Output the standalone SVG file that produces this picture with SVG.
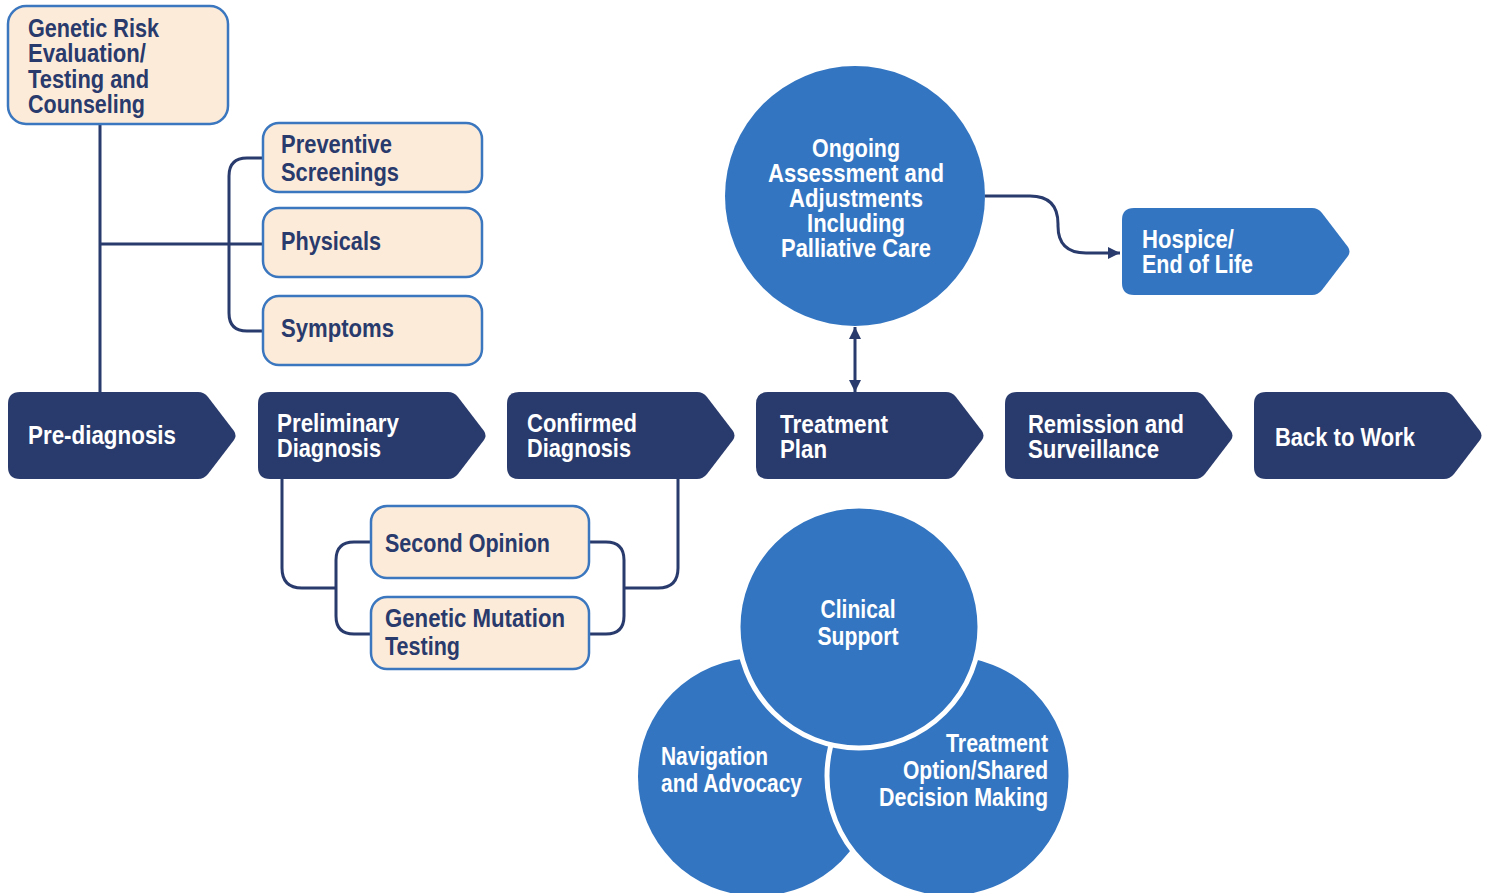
<svg xmlns="http://www.w3.org/2000/svg" width="1486" height="893" viewBox="0 0 1486 893">
<style>
.t{font-family:"Liberation Sans Narrow","Liberation Sans",Arial,sans-serif;font-weight:bold;font-size:26px}
.dk{fill:#293a6c}
.wh{fill:#ffffff}
.peach{fill:#fdebd9;stroke:#3b77bf;stroke-width:2.5}
.navy{fill:#293a6c}
.blue{fill:#3375c1}
.ln{fill:none;stroke:#293a6c;stroke-width:3}
</style>
<defs>
<path id="pent" d="M12,0 H190 Q196,0 200,5 L226,39 Q229,43.5 226,48 L200,82 Q196,87 190,87 H12 Q0,87 0,75 V12 Q0,0 12,0 Z"/>
<marker id="ah" markerUnits="userSpaceOnUse" markerWidth="14" markerHeight="14" refX="12" refY="7" orient="auto-start-reverse">
<path d="M0,1 L12,7 L0,13 Z" fill="#293a6c"/>
</marker>
</defs>
<g id="connectors">
<path class="ln" d="M100,124 V392"/>
<path class="ln" d="M100,244 H263"/>
<path class="ln" d="M263,158 H247 Q229,158 229,176 V313 Q229,331 247,331 H263"/>
<path class="ln" d="M282,479 V568 Q282,588 302,588 H336"/>
<path class="ln" d="M370,542 H354 Q336,542 336,560 V616 Q336,634 354,634 H370"/>
<path class="ln" d="M589,542 H606 Q624,542 624,560 V616 Q624,634 606,634 H589"/>
<path class="ln" d="M624,588 H658 Q678,588 678,568 V479"/>
<path class="ln" d="M985,196 H1030 Q1058,196 1058,224 V226 Q1058,253 1086,253 H1120" marker-end="url(#ah)"/>
<path class="ln" d="M855,327 V392" marker-start="url(#ah)" marker-end="url(#ah)"/>
</g>
<g id="genetic-risk">
<rect class="peach" x="8" y="6" width="220" height="118" rx="18"/>
<text class="t dk"><tspan x="28" y="37" textLength="131" lengthAdjust="spacingAndGlyphs">Genetic Risk</tspan><tspan x="28" y="62" textLength="118" lengthAdjust="spacingAndGlyphs">Evaluation/</tspan><tspan x="28" y="88" textLength="121" lengthAdjust="spacingAndGlyphs">Testing and</tspan><tspan x="28" y="113" textLength="117" lengthAdjust="spacingAndGlyphs">Counseling</tspan></text>
</g>
<g id="preventive">
<rect class="peach" x="263" y="123" width="219" height="69" rx="16"/>
<text class="t dk"><tspan x="281" y="153" textLength="111" lengthAdjust="spacingAndGlyphs">Preventive</tspan><tspan x="281" y="181" textLength="118" lengthAdjust="spacingAndGlyphs">Screenings</tspan></text>
</g>
<g id="physicals">
<rect class="peach" x="263" y="208" width="219" height="69" rx="16"/>
<text class="t dk" x="281" y="250" textLength="100" lengthAdjust="spacingAndGlyphs">Physicals</text>
</g>
<g id="symptoms">
<rect class="peach" x="263" y="296" width="219" height="69" rx="16"/>
<text class="t dk" x="281" y="337" textLength="113" lengthAdjust="spacingAndGlyphs">Symptoms</text>
</g>
<g id="pre-diagnosis">
<use href="#pent" x="8" y="392" class="navy"/>
<text class="t wh" x="28" y="444" textLength="148" lengthAdjust="spacingAndGlyphs">Pre-diagnosis</text>
</g>
<g id="preliminary">
<use href="#pent" x="258" y="392" class="navy"/>
<text class="t wh"><tspan x="277" y="432" textLength="122" lengthAdjust="spacingAndGlyphs">Preliminary</tspan><tspan x="277" y="457" textLength="104" lengthAdjust="spacingAndGlyphs">Diagnosis</tspan></text>
</g>
<g id="confirmed">
<use href="#pent" x="507" y="392" class="navy"/>
<text class="t wh"><tspan x="527" y="432" textLength="110" lengthAdjust="spacingAndGlyphs">Confirmed</tspan><tspan x="527" y="457" textLength="104" lengthAdjust="spacingAndGlyphs">Diagnosis</tspan></text>
</g>
<g id="treatment-plan">
<use href="#pent" x="756" y="392" class="navy"/>
<text class="t wh"><tspan x="780" y="433" textLength="108" lengthAdjust="spacingAndGlyphs">Treatment</tspan><tspan x="780" y="458" textLength="47" lengthAdjust="spacingAndGlyphs">Plan</tspan></text>
</g>
<g id="remission">
<use href="#pent" x="1005" y="392" class="navy"/>
<text class="t wh"><tspan x="1028" y="433" textLength="156" lengthAdjust="spacingAndGlyphs">Remission and</tspan><tspan x="1028" y="458" textLength="131" lengthAdjust="spacingAndGlyphs">Surveillance</tspan></text>
</g>
<g id="back-to-work">
<use href="#pent" x="1254" y="392" class="navy"/>
<text class="t wh" x="1275" y="446" textLength="140" lengthAdjust="spacingAndGlyphs">Back to Work</text>
</g>
<g id="second-opinion">
<rect class="peach" x="371" y="506" width="218" height="72" rx="16"/>
<text class="t dk" x="385" y="552" textLength="165" lengthAdjust="spacingAndGlyphs">Second Opinion</text>
</g>
<g id="genetic-mutation">
<rect class="peach" x="371" y="597" width="218" height="72" rx="16"/>
<text class="t dk"><tspan x="385" y="627" textLength="180" lengthAdjust="spacingAndGlyphs">Genetic Mutation</tspan><tspan x="385" y="655" textLength="75" lengthAdjust="spacingAndGlyphs">Testing</tspan></text>
</g>
<g id="ongoing">
<circle class="blue" cx="855" cy="196" r="130"/>
<text class="t wh" text-anchor="middle"><tspan x="856" y="157" textLength="88" lengthAdjust="spacingAndGlyphs">Ongoing</tspan><tspan x="856" y="182" textLength="176" lengthAdjust="spacingAndGlyphs">Assessment and</tspan><tspan x="856" y="207" textLength="134" lengthAdjust="spacingAndGlyphs">Adjustments</tspan><tspan x="856" y="232" textLength="98" lengthAdjust="spacingAndGlyphs">Including</tspan><tspan x="856" y="257" textLength="150" lengthAdjust="spacingAndGlyphs">Palliative Care</tspan></text>
</g>
<g id="hospice">
<use href="#pent" x="1122" y="208" class="blue"/>
<text class="t wh"><tspan x="1142" y="248" textLength="92" lengthAdjust="spacingAndGlyphs">Hospice/</tspan><tspan x="1142" y="273" textLength="111" lengthAdjust="spacingAndGlyphs">End of Life</tspan></text>
</g>
<g id="navigation">
<circle class="blue" cx="757" cy="777" r="119"/>
<text class="t wh"><tspan x="661" y="765" textLength="107" lengthAdjust="spacingAndGlyphs">Navigation</tspan><tspan x="661" y="792" textLength="141" lengthAdjust="spacingAndGlyphs">and Advocacy</tspan></text>
</g>
<g id="treatment-option">
<circle class="blue" cx="949" cy="776" r="122" stroke="#ffffff" stroke-width="5"/>
<text class="t wh" text-anchor="end"><tspan x="1048" y="752" textLength="102" lengthAdjust="spacingAndGlyphs">Treatment</tspan><tspan x="1048" y="779" textLength="145" lengthAdjust="spacingAndGlyphs">Option/Shared</tspan><tspan x="1048" y="806" textLength="169" lengthAdjust="spacingAndGlyphs">Decision Making</tspan></text>
</g>
<g id="clinical-support">
<circle class="blue" cx="859" cy="627" r="121" stroke="#ffffff" stroke-width="5"/>
<text class="t wh" text-anchor="middle"><tspan x="858" y="618" textLength="75" lengthAdjust="spacingAndGlyphs">Clinical</tspan><tspan x="858" y="645" textLength="81" lengthAdjust="spacingAndGlyphs">Support</tspan></text>
</g>
</svg>
